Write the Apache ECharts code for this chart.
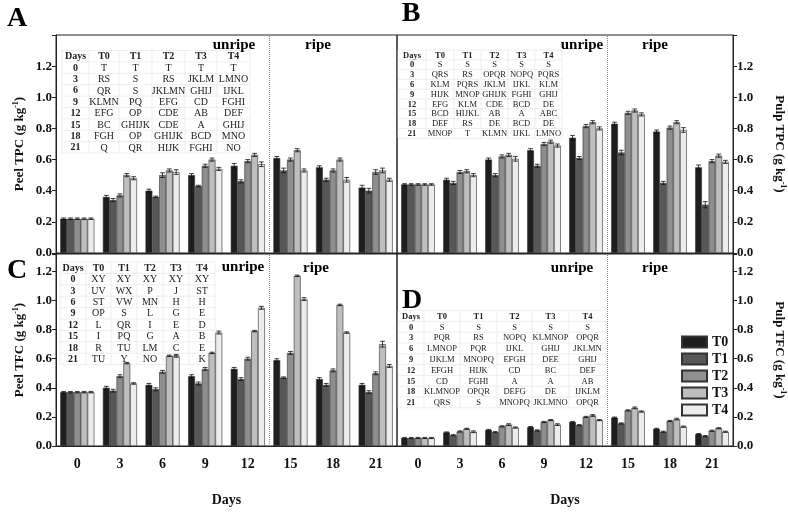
<!DOCTYPE html>
<html>
<head>
<meta charset="utf-8">
<script src="https://cdn.jsdelivr.net/npm/echarts@6/dist/echarts.min.js"></script>
<style>
html, body { margin: 0; padding: 0; background: #fff; }
#chart { width: 788px; height: 520px; }
</style>
</head>
<body>
<div id="chart"></div>
<script>
// days on the x axis, treatments in the legend
const days = ['0', '3', '6', '9', '12', '15', '18', '21'];
const treatments = ['T0', 'T1', 'T2', 'T3', 'T4'];
const colors = ['#1e1e1e', '#575757', '#8e8e8e', '#bebebe', '#ececec'];
const yTicks = [0, 0.2, 0.4, 0.6, 0.8, 1.0, 1.2];

// A - peel TPC, one row per treatment
const peelTPC = [
  [0.22, 0.36, 0.40, 0.50, 0.56, 0.61, 0.55, 0.42],
  [0.22, 0.34, 0.36, 0.43, 0.46, 0.53, 0.47, 0.40],
  [0.22, 0.37, 0.50, 0.56, 0.59, 0.60, 0.53, 0.52],
  [0.22, 0.50, 0.53, 0.60, 0.63, 0.66, 0.60, 0.53],
  [0.22, 0.48, 0.52, 0.54, 0.57, 0.53, 0.47, 0.47]
];
const peelTPCErr = [
  [0.005, 0.01, 0.01, 0.01, 0.015, 0.01, 0.01, 0.015],
  [0.005, 0.01, 0.005, 0.005, 0.01, 0.015, 0.01, 0.015],
  [0.005, 0.01, 0.015, 0.01, 0.01, 0.01, 0.01, 0.015],
  [0.005, 0.01, 0.01, 0.01, 0.01, 0.01, 0.01, 0.015],
  [0.005, 0.01, 0.015, 0.01, 0.015, 0.01, 0.015, 0.01]
];

// B - pulp TPC
const pulpTPC = [
  [0.44, 0.47, 0.60, 0.66, 0.74, 0.83, 0.78, 0.55],
  [0.44, 0.45, 0.50, 0.56, 0.61, 0.645, 0.45, 0.31],
  [0.44, 0.52, 0.62, 0.70, 0.815, 0.90, 0.805, 0.59],
  [0.44, 0.525, 0.63, 0.715, 0.84, 0.915, 0.84, 0.625],
  [0.44, 0.50, 0.605, 0.69, 0.80, 0.89, 0.79, 0.585]
];
const pulpTPCErr = [
  [0.005, 0.01, 0.01, 0.01, 0.015, 0.01, 0.01, 0.015],
  [0.005, 0.01, 0.01, 0.01, 0.01, 0.015, 0.01, 0.02],
  [0.005, 0.01, 0.01, 0.01, 0.01, 0.01, 0.01, 0.01],
  [0.005, 0.01, 0.01, 0.01, 0.01, 0.01, 0.01, 0.01],
  [0.005, 0.01, 0.015, 0.01, 0.01, 0.01, 0.015, 0.01]
];

// C - peel TFC
const peelTFC = [
  [0.37, 0.40, 0.42, 0.48, 0.53, 0.59, 0.46, 0.42],
  [0.37, 0.38, 0.39, 0.43, 0.46, 0.47, 0.42, 0.37],
  [0.37, 0.48, 0.51, 0.53, 0.60, 0.64, 0.52, 0.50],
  [0.37, 0.57, 0.62, 0.64, 0.79, 1.17, 0.97, 0.70],
  [0.37, 0.43, 0.62, 0.78, 0.95, 1.01, 0.78, 0.55]
];
const peelTFCErr = [
  [0.005, 0.01, 0.01, 0.01, 0.01, 0.01, 0.01, 0.01],
  [0.005, 0.01, 0.01, 0.01, 0.01, 0.005, 0.01, 0.01],
  [0.005, 0.01, 0.01, 0.01, 0.01, 0.01, 0.01, 0.01],
  [0.005, 0.005, 0.005, 0.005, 0.005, 0.005, 0.005, 0.02],
  [0.005, 0.005, 0.01, 0.01, 0.01, 0.01, 0.005, 0.01]
];

// D - pulp TFC
const pulpTFC = [
  [0.055, 0.093, 0.11, 0.13, 0.165, 0.195, 0.118, 0.082],
  [0.055, 0.074, 0.095, 0.107, 0.143, 0.155, 0.098, 0.068],
  [0.055, 0.10, 0.135, 0.165, 0.20, 0.245, 0.172, 0.105],
  [0.055, 0.118, 0.147, 0.178, 0.21, 0.262, 0.185, 0.122],
  [0.055, 0.098, 0.127, 0.147, 0.178, 0.237, 0.133, 0.098]
];
const pulpTFCErr = [
  [0.004, 0.004, 0.004, 0.004, 0.004, 0.004, 0.004, 0.004],
  [0.004, 0.004, 0.004, 0.004, 0.004, 0.004, 0.004, 0.004],
  [0.004, 0.004, 0.004, 0.004, 0.004, 0.004, 0.004, 0.004],
  [0.004, 0.004, 0.006, 0.004, 0.006, 0.006, 0.006, 0.004],
  [0.004, 0.006, 0.004, 0.006, 0.004, 0.004, 0.004, 0.004]
];

// letters of significance tables
const tableHead = ['Days', 'T0', 'T1', 'T2', 'T3', 'T4'];
const tableA = [
  ['0', 'T', 'T', 'T', 'T', 'T'],
  ['3', 'RS', 'S', 'RS', 'JKLM', 'LMNO'],
  ['6', 'QR', 'S', 'JKLMN', 'GHIJ', 'IJKL'],
  ['9', 'KLMN', 'PQ', 'EFG', 'CD', 'FGHI'],
  ['12', 'EFG', 'OP', 'CDE', 'AB', 'DEF'],
  ['15', 'BC', 'GHIJK', 'CDE', 'A', 'GHIJ'],
  ['18', 'FGH', 'OP', 'GHIJK', 'BCD', 'MNO'],
  ['21', 'Q', 'QR', 'HIJK', 'FGHI', 'NO']
];
const tableB = [
  ['0', 'S', 'S', 'S', 'S', 'S'],
  ['3', 'QRS', 'RS', 'OPQR', 'NOPQ', 'PQRS'],
  ['6', 'KLM', 'PQRS', 'JKLM', 'IJKL', 'KLM'],
  ['9', 'HIJK', 'MNOP', 'GHIJK', 'FGHI', 'GHIJ'],
  ['12', 'EFG', 'KLM', 'CDE', 'BCD', 'DE'],
  ['15', 'BCD', 'HIJKL', 'AB', 'A', 'ABC'],
  ['18', 'DEF', 'RS', 'DE', 'BCD', 'DE'],
  ['21', 'MNOP', 'T', 'KLMN', 'IJKL', 'LMNO']
];
const tableC = [
  ['0', 'XY', 'XY', 'XY', 'XY', 'XY'],
  ['3', 'UV', 'WX', 'P', 'J', 'ST'],
  ['6', 'ST', 'VW', 'MN', 'H', 'H'],
  ['9', 'OP', 'S', 'L', 'G', 'E'],
  ['12', 'L', 'QR', 'I', 'E', 'D'],
  ['15', 'I', 'PQ', 'G', 'A', 'B'],
  ['18', 'R', 'TU', 'LM', 'C', 'E'],
  ['21', 'TU', 'Y', 'NO', 'F', 'K']
];
const tableD = [
  ['0', 'S', 'S', 'S', 'S', 'S'],
  ['3', 'PQR', 'RS', 'NOPQ', 'KLMNOP', 'OPQR'],
  ['6', 'LMNOP', 'PQR', 'IJKL', 'GHIJ', 'JKLMN'],
  ['9', 'IJKLM', 'MNOPQ', 'EFGH', 'DEE', 'GHIJ'],
  ['12', 'EFGH', 'HIJK', 'CD', 'BC', 'DEF'],
  ['15', 'CD', 'FGHI', 'A', 'A', 'AB'],
  ['18', 'KLMNOP', 'OPQR', 'DEFG', 'DE', 'IJKLM'],
  ['21', 'QRS', 'S', 'MNOPQ', 'JKLMNO', 'OPQR']
];

const FONT = 'Liberation Serif';
const panelData = [peelTPC, pulpTPC, peelTFC, pulpTFC];
const panelErr = [peelTPCErr, pulpTPCErr, peelTFCErr, pulpTFCErr];
const yNames = ['Peel TPC (g kg{s|-1})', 'Pulp TPC (g kg{s|-1})', 'Peel TFC (g kg{s|-1})', 'Pulp TFC (g kg{s|-1})'];
const yMax = [1.4, 1.4, 1.32, 1.32];

let myChart = echarts.init(document.getElementById('chart'));

// error bars sit on top of each bar of the group
function errRender(params, api) {
  const i = api.value(0), v = api.value(1), e = api.value(2), s = api.value(3);
  const band = api.size([1, 0])[0];
  const bw = band * 0.8 / 5;
  const x = api.coord([i, v])[0] + (s - 2) * bw;
  const yt = api.coord([i, v + e])[1];
  const yb = api.coord([i, v - e])[1];
  const hw = bw * 0.35;
  const st = { stroke: '#111', lineWidth: 0.8 };
  return {
    type: 'group',
    children: [
      { type: 'line', shape: { x1: x, y1: yt, x2: x, y2: yb }, style: st },
      { type: 'line', shape: { x1: x - hw, y1: yt, x2: x + hw, y2: yt }, style: st },
      { type: 'line', shape: { x1: x - hw, y1: yb, x2: x + hw, y2: yb }, style: st }
    ]
  };
}

// table drawn as graphic text + thin grid lines
function makeTable(rows, left, top, colW, rowH, fs) {
  const els = [];
  const all = [tableHead].concat(rows);
  const totalW = colW.reduce((a, b) => a + b, 0);
  const totalH = rowH * all.length;
  for (let r = 0; r <= all.length; r++) {
    els.push({ type: 'line', shape: { x1: left, y1: top + r * rowH, x2: left + totalW, y2: top + r * rowH },
      style: { stroke: '#e3e3e3', lineWidth: 0.6 }, silent: true });
  }
  let cx = left;
  for (let c = 0; c <= colW.length; c++) {
    els.push({ type: 'line', shape: { x1: cx, y1: top, x2: cx, y2: top + totalH },
      style: { stroke: '#e3e3e3', lineWidth: 0.6 }, silent: true });
    if (c < colW.length) cx += colW[c];
  }
  all.forEach((row, r) => {
    let x = left;
    row.forEach((txt, c) => {
      els.push({
        type: 'text', silent: true,
        style: {
          x: x + colW[c] / 2, y: top + r * rowH + rowH / 2 + 0.5,
          text: txt, align: 'center', verticalAlign: 'middle',
          fontFamily: FONT, fontSize: fs,
          fontWeight: (r === 0 || c === 0) ? 'bold' : 'normal',
          fill: '#222'
        }
      });
      x += colW[c];
    });
  });
  return els;
}

function label(text, x, y, size) {
  return {
    type: 'text', silent: true,
    style: { x: x, y: y, text: text, align: 'center', verticalAlign: 'middle',
      fontFamily: FONT, fontSize: size, fontWeight: 'bold', fill: '#000' }
  };
}

const grids = [
  { left: 56, top: 35, width: 341, height: 218 },
  { left: 397, top: 35, width: 338, height: 218 },
  { left: 56, top: 254, width: 341, height: 192 },
  { left: 397, top: 254, width: 338, height: 192 }
].map(g => Object.assign(g, { show: true, borderColor: '#222', borderWidth: 1, containLabel: false }));

const xAxes = [];
const yAxes = [];
const series = [];
for (let p = 0; p < 4; p++) {
  const bottomRow = p >= 2;
  xAxes.push({
    type: 'category', gridIndex: p, data: days,
    axisLine: { lineStyle: { color: '#222' } },
    axisTick: { alignWithLabel: true, length: 4, lineStyle: { color: '#222' } },
    axisLabel: { show: bottomRow, fontFamily: FONT, fontSize: 14, fontWeight: 'bold', color: '#111', margin: 11 },
    name: bottomRow ? 'Days' : '', nameLocation: 'middle', nameGap: 47,
    nameTextStyle: { fontFamily: FONT, fontSize: 14, fontWeight: 'bold', color: '#111' }
  });
  const right = p % 2 === 1;
  yAxes.push({
    type: 'value', gridIndex: p, min: 0, max: yMax[p], interval: 0.2,
    position: right ? 'right' : 'left',
    splitLine: { show: false },
    axisLine: { show: true, onZero: false, lineStyle: { color: '#222' } },
    axisTick: { show: true, length: 4, lineStyle: { color: '#222' } },
    axisLabel: {
      fontFamily: FONT, fontSize: 13, fontWeight: 'bold', color: '#111', margin: 4,
      formatter: v => (yTicks.some(t => Math.abs(t - v) < 1e-6) ? v.toFixed(1) : '')
    },
    name: yNames[p], nameLocation: 'middle', nameGap: right ? 38 : 28,
    nameRotate: right ? -90 : 90,
    nameTextStyle: {
      fontFamily: FONT, fontSize: 13, fontWeight: 'bold', color: '#111', lineHeight: 16,
      rich: { s: { fontFamily: FONT, fontSize: 8, fontWeight: 'bold', color: '#111', verticalAlign: 'top', lineHeight: 8 } }
    }
  });
  panelData[p].forEach((vals, s) => {
    series.push({
      name: treatments[s], type: 'bar', xAxisIndex: p, yAxisIndex: p, data: vals,
      barGap: '0%', barCategoryGap: '20%',
      itemStyle: { color: colors[s], borderColor: '#333', borderWidth: 0.6 }
    });
  });
  const errData = [];
  panelData[p].forEach((vals, s) => {
    vals.forEach((v, i) => errData.push([i, v, panelErr[p][s][i], s]));
  });
  series.push({
    name: 'err', type: 'custom', xAxisIndex: p, yAxisIndex: p, data: errData,
    encode: { x: 0, y: 1 }, renderItem: errRender, z: 5, silent: true
  });
}
// hidden value axes to put the unripe / ripe divider between day 12 and 15
for (let p = 0; p < 4; p++) {
  xAxes.push({ type: 'value', gridIndex: p, min: -0.5, max: 7.5, show: false });
  series.push({
    name: 'div', type: 'line', xAxisIndex: 4 + p, yAxisIndex: p, data: [],
    markLine: {
      silent: true, symbol: ['none', 'none'], label: { show: false },
      lineStyle: { type: 'dotted', color: '#8a8a8a', width: 1 },
      data: [{ xAxis: 4.5 }]
    }
  });
}

const graphics = []
  .concat(makeTable(tableA, 62, 50.5, [27, 30, 33, 33, 32, 33], 11.4, 10))
  .concat(makeTable(tableB, 398, 50, [28, 28, 27, 27, 27, 27], 9.8, 8.5))
  .concat(makeTable(tableC, 60, 262, [26, 25, 26, 26, 26, 26], 11.4, 10))
  .concat(makeTable(tableD, 398, 310.6, [26, 36, 37, 35, 37, 37], 10.8, 8.5))
  .concat([
    label('A', 17, 19, 28), label('B', 411, 14, 28), label('C', 17, 271, 28), label('D', 412, 301, 28),
    label('unripe', 234, 45, 15), label('ripe', 318, 45, 15),
    label('unripe', 582, 45, 15), label('ripe', 655, 45, 15),
    label('unripe', 243, 267, 15), label('ripe', 316, 268, 15),
    label('unripe', 572, 268, 15), label('ripe', 655, 268, 15)
  ]);

let option = {
  animation: false,
  backgroundColor: '#fff',
  textStyle: { fontFamily: FONT },
  grid: grids,
  xAxis: xAxes,
  yAxis: yAxes,
  legend: {
    data: treatments, orient: 'vertical', left: 676, top: 330,
    icon: 'rect', itemWidth: 25, itemHeight: 11, itemGap: 3,
    textStyle: { fontFamily: FONT, fontSize: 14, fontWeight: 'bold', color: '#111', lineHeight: 14 }
  },
  series: series,
  graphic: graphics
};
myChart.setOption(option);
</script>
</body>
</html>
